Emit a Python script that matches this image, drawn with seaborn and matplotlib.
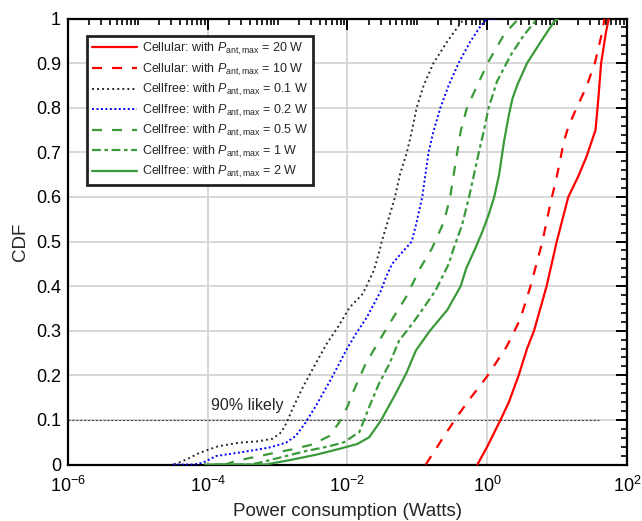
import numpy as np
import pandas as pd
import matplotlib
matplotlib.use("Agg")
import matplotlib.pyplot as plt
import seaborn as sns
from matplotlib.ticker import FixedLocator, LogLocator, NullFormatter, FuncFormatter, MultipleLocator

sns.set_theme(style="white")
plt.rcParams["font.family"] = ["Liberation Sans", "DejaVu Sans"]
plt.rcParams["mathtext.fontset"] = "custom"
plt.rcParams["mathtext.rm"] = "Liberation Sans"
plt.rcParams["mathtext.it"] = "Liberation Sans:italic"
plt.rcParams["mathtext.bf"] = "Liberation Sans:bold"

# CDF levels and log10(power in W)
cdf_20w = [0, 0.04, 0.10, 0.14, 0.20, 0.26, 0.30, 0.40, 0.50, 0.60, 0.645, 0.69, 0.75, 0.82, 0.90, 0.97, 1.0]
logp_20w = [-0.14, 0.0, 0.19, 0.31, 0.45, 0.57, 0.67, 0.85, 0.995, 1.16, 1.30, 1.42, 1.55, 1.59, 1.63, 1.70, 1.74]

cdf_10w = [0, 0.063, 0.108, 0.149, 0.198, 0.265, 0.325, 0.40, 0.50, 0.59, 0.634, 0.687, 0.72, 0.757, 0.80,
           0.847, 0.90, 0.966, 1.0]
logp_10w = [-0.88, -0.62, -0.43, -0.24, 0.0, 0.28, 0.47, 0.62, 0.79, 0.91, 0.98, 1.05, 1.09, 1.16, 1.28,
            1.42, 1.54, 1.64, 1.68]

cdf_01w = [0, 0.011, 0.026, 0.041, 0.049, 0.052, 0.058, 0.072, 0.094, 0.124, 0.173, 0.225, 0.27, 0.31,
           0.352, 0.383, 0.436, 0.48, 0.50, 0.552, 0.60, 0.65, 0.70, 0.747, 0.80, 0.85, 0.90, 0.949, 0.99, 1.0]
logp_01w = [-4.48, -4.31, -4.12, -3.85, -3.55, -3.28, -3.07, -2.95, -2.87, -2.79, -2.64, -2.46, -2.30, -2.13,
            -1.97, -1.78, -1.62, -1.54, -1.51, -1.41, -1.32, -1.25, -1.15, -1.08, -1.01, -0.91, -0.77, -0.57,
            -0.38, -0.33]

cdf_02w = [0, 0, 0.004, 0.019, 0.028, 0.038, 0.049, 0.064, 0.094, 0.132, 0.196, 0.256, 0.293, 0.331, 0.39,
           0.42, 0.45, 0.47, 0.50, 0.544, 0.60, 0.70, 0.747, 0.80, 0.851, 0.90, 0.949, 0.982, 1.0, 1.0]
logp_02w = [-4.50, -4.20, -4.07, -3.88, -3.50, -3.12, -2.88, -2.74, -2.60, -2.45, -2.22, -2.02, -1.88, -1.72, -1.52,
            -1.45, -1.36, -1.25, -1.08, -1.01, -0.93, -0.84, -0.77, -0.67, -0.55, -0.41, -0.24, -0.10, 0.0, 0.14]

cdf_05w = [0, 0, 0.008, 0.019, 0.026, 0.034, 0.045, 0.064, 0.094, 0.13, 0.159, 0.226, 0.271, 0.308, 0.376,
           0.44, 0.485, 0.544, 0.60, 0.68, 0.747, 0.80, 0.851, 0.904, 0.964, 1.0]
logp_05w = [-4.05, -3.75, -3.60, -3.26, -3.05, -2.79, -2.50, -2.26, -2.12, -2.00, -1.93, -1.74, -1.57, -1.43, -1.16,
            -0.96, -0.79, -0.62, -0.53, -0.45, -0.38, -0.29, -0.14, 0.02, 0.24, 0.45]

cdf_1w = [0, 0, 0.004, 0.019, 0.03, 0.041, 0.05, 0.073, 0.129, 0.181, 0.226, 0.278, 0.312, 0.338, 0.39,
          0.45, 0.485, 0.537, 0.60, 0.65, 0.70, 0.747, 0.80, 0.859, 0.919, 0.964, 1.0]
logp_1w = [-3.90, -3.40, -3.26, -2.88, -2.60, -2.26, -2.05, -1.83, -1.69, -1.55, -1.40, -1.26, -1.09, -0.97, -0.74,
           -0.55, -0.48, -0.36, -0.26, -0.19, -0.12, -0.05, 0.02, 0.14, 0.34, 0.53, 0.72]

cdf_2w = [0, 0, 0.011, 0.022, 0.035, 0.046, 0.061, 0.099, 0.159, 0.204, 0.256, 0.30, 0.347, 0.40, 0.44,
          0.485, 0.522, 0.56, 0.60, 0.65, 0.724, 0.784, 0.82, 0.851, 0.90, 0.949, 0.994, 1.0]
logp_2w = [-3.90, -3.17, -2.79, -2.45, -2.12, -1.86, -1.69, -1.52, -1.31, -1.16, -1.02, -0.82, -0.57, -0.38, -0.30,
           -0.17, -0.07, 0.02, 0.10, 0.17, 0.24, 0.31, 0.36, 0.43, 0.57, 0.77, 0.96, 1.02]

labels = [
    r"Cellular: with $P_{\rm ant,max}$ = 20 W",
    r"Cellular: with $P_{\rm ant,max}$ = 10 W",
    r"Cellfree: with $P_{\rm ant,max}$ = 0.1 W",
    r"Cellfree: with $P_{\rm ant,max}$ = 0.2 W",
    r"Cellfree: with $P_{\rm ant,max}$ = 0.5 W",
    r"Cellfree: with $P_{\rm ant,max}$ = 1 W",
    r"Cellfree: with $P_{\rm ant,max}$ = 2 W",
]

likely_level = 0.1
likely_span = [1e-6, 40]

red = "#ff0000"
green = "#3a9a3a"
styles = [
    (red, "-", 1.6),
    (red, (0, (4.5, 4.5)), 1.6),
    ("#2b2b2b", (0, (1, 1.6)), 1.4),
    ("#0000ff", (0, (1, 1.3)), 1.4),
    (green, (0, (4.5, 4.5)), 1.6),
    (green, (0, (4, 1.6, 1.6, 1.6)), 1.6),
    (green, "-", 1.6),
]

series = [(cdf_20w, logp_20w), (cdf_10w, logp_10w), (cdf_01w, logp_01w), (cdf_02w, logp_02w),
          (cdf_05w, logp_05w), (cdf_1w, logp_1w), (cdf_2w, logp_2w)]

fig = plt.figure(figsize=(6.42, 5.21), dpi=100)
ax = fig.add_axes([0.1059, 0.1084, 0.8707, 0.856])
ax.set_xscale("log")

for (cdf, logp), lab, (col, ls, lw) in zip(series, labels, styles):
    df = pd.DataFrame({"power": 10.0 ** np.array(logp), "cdf": cdf})
    sns.lineplot(data=df, x="power", y="cdf", ax=ax, color=col, linestyle=ls, linewidth=lw,
                 label=lab, sort=False, estimator=None, zorder=3)

# 90% reference line
ax.plot(likely_span, [likely_level, likely_level], color="#444444", lw=0.8, linestyle=(0, (2, 1.5)), zorder=2)
ax.text(10 ** -3.95, 0.133, "90% likely", fontsize=11.5, va="center", ha="left")

ax.set_xlim(1e-6, 1e2)
ax.set_ylim(0, 1)

ax.xaxis.set_major_locator(FixedLocator([1e-6, 1e-4, 1e-2, 1e0, 1e2]))
ax.xaxis.set_minor_locator(LogLocator(base=10, subs=np.arange(1, 10), numticks=50))
ax.xaxis.set_minor_formatter(NullFormatter())
ax.xaxis.set_major_formatter(FuncFormatter(lambda v, p: r"$10^{%d}$" % round(np.log10(v))))
ax.yaxis.set_major_locator(MultipleLocator(0.1))
ax.yaxis.set_minor_locator(MultipleLocator(0.02))
ax.yaxis.set_major_formatter(FuncFormatter(lambda v, p: "%g" % round(v, 2)))

ax.grid(True, which="major", color="#d4d4d4", lw=1.3, zorder=0)
ax.tick_params(which="both", direction="in", top=True, right=True, colors="black", labelsize=13)
ax.tick_params(which="major", length=8, width=1.4)
ax.tick_params(which="minor", length=4.5, width=1.2)
ax.tick_params(axis="x", which="major", pad=8)
ax.tick_params(axis="y", which="major", pad=5)
for sp in ax.spines.values():
    sp.set_color("black")
    sp.set_linewidth(1.6)

ax.set_xlabel("Power consumption (Watts)", fontsize=13.5, labelpad=5)
ax.set_ylabel("CDF", fontsize=13.5, labelpad=5)

leg = ax.legend(loc="upper left", bbox_to_anchor=(0.034, 0.961), borderaxespad=0, fontsize=9.0,
                handlelength=3.6, handletextpad=0.4, labelspacing=0.36, borderpad=0.4,
                fancybox=False, framealpha=1, edgecolor="#222222")
leg.get_frame().set_linewidth(2)

fig.savefig("out.png", dpi=100)
